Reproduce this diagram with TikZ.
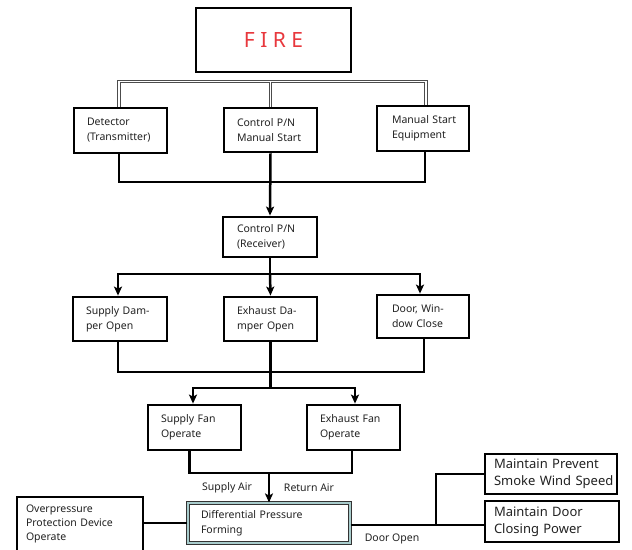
\documentclass[tikz,border=0pt]{standalone}
\usepackage{fontspec}
\setmainfont{Noto Sans}
\usetikzlibrary{arrows.meta}
\definecolor{firered}{HTML}{E8383D}
\definecolor{txt}{HTML}{222222}
\definecolor{dteal}{HTML}{A8CCCC}
\tikzset{
  box/.style={draw=black, line width=2.8pt, fill=white, align=left, inner ysep=0pt, inner xsep=13pt,
    font=\fontsize{10.5}{15}\selectfont, text=txt},
  conn/.style={line width=2.5pt, draw=black},
  arr/.style={conn, -{Stealth[length=9pt,width=8pt,inset=2pt]}},
  dbl/.style={draw=black!70, line width=1.1pt, double=white, double distance=1.5pt},
  lbl/.style={font=\fontsize{10.5}{12}\selectfont, text=txt, inner sep=0pt},
}
\begin{document}
\begin{tikzpicture}[x=1pt,y=-1pt]
\useasboundingbox (0,0) rectangle (632,549);
\clip (0,0) rectangle (632,549);

% FIRE
\node[box, line width=2.2pt, minimum width=155pt, minimum height=64pt, inner sep=0pt,
  font=\fontsize{21}{24}\selectfont, text=firered] (fire) at (273.5,40) {F I R E};

% row 1
\node[box, minimum width=93pt, minimum height=45pt, text width=67pt] (det) at (120.5,130.5) {Detector\\(Transmitter)};
\node[box, minimum width=93pt, minimum height=44pt, text width=67pt] (cpn) at (270.5,130) {Control~P/N\\Manual~Start};
\node[box, minimum width=92pt, minimum height=45pt, inner xsep=15pt, text width=62pt] (mse) at (423,128.5) {Manual~Start\\Equipment};

% receiver
\node[box, minimum width=94pt, minimum height=40pt, inner xsep=14pt, text width=66pt] (rcv) at (270,237) {Control~P/N\\(Receiver)};

% row 3
\node[box, minimum width=94pt, minimum height=44pt, text width=68pt] (sd) at (120,319) {Supply~Dam-\\per~Open};
\node[box, minimum width=93pt, minimum height=44pt, text width=67pt] (ed) at (270.5,319) {Exhaust~Da-\\mper~Open};
\node[box, minimum width=92pt, minimum height=43pt, inner xsep=15pt, text width=62pt] (dw) at (423,316.5) {Door,~Win-\\dow~Close};

% fans
\node[box, minimum width=93pt, minimum height=45pt, text width=67pt] (sf) at (194.5,427.5) {Supply~Fan\\Operate};
\node[box, minimum width=93pt, minimum height=45pt, text width=67pt] (ef) at (353.5,427.5) {Exhaust~Fan\\Operate};

% differential pressure
\node[box, draw=black!80, line width=1.1pt, double=dteal, double distance=2pt,
  minimum width=162pt, minimum height=40pt, text width=136pt] (dpf) at (269,523) {Differential~Pressure\\Forming};

% overpressure
\node[box, line width=2.2pt, minimum width=126pt, minimum height=54pt, inner xsep=9pt, text width=108pt,
  font=\fontsize{10.5}{14}\selectfont] (op) at (80,524) {Overpressure\\Protection~Device\\Operate};

% maintain boxes
\node[box, minimum width=132pt, minimum height=40pt, inner xsep=9pt, text width=114pt,
  font=\fontsize{13}{17}\selectfont] (mp) at (551,474) {Maintain~Prevent\\Smoke~Wind~Speed};
\node[box, minimum width=134pt, minimum height=41pt, inner xsep=9pt, text width=116pt,
  font=\fontsize{13}{17}\selectfont] (md) at (552,521.5) {Maintain~Door\\Closing~Power};

% double-line distribution from FIRE
\coordinate (bus1) at (270.5,81.5);
\draw[dbl] ([xshift=-1.5pt]det.north) |- (bus1) -| ([xshift=3pt]mse.north);
\draw[dbl] (bus1) -- (cpn.north);

% join 1 -> receiver
\coordinate (j1) at (270.5,182);
\draw[conn] ([xshift=-1.5pt]det.south) |- (j1) -| ([xshift=2pt]mse.south);
\draw[arr] (cpn.south) -- (rcv.north);

% receiver -> row 3
\coordinate (b2) at (270,274);
\draw[conn] (rcv.south) -- (b2);
\draw[arr] (b2) -| ([xshift=-2pt]sd.north);
\draw[arr] (b2) -| ([xshift=-3pt]dw.north);
\draw[arr] (b2) -- (ed.north);

% join 3 -> fans
\coordinate (j3) at (270.5,372);
\draw[conn] ([xshift=-2pt]sd.south) |- (j3) -| ([xshift=1pt]dw.south);
\coordinate (b3) at (270.5,388);
\draw[conn] (ed.south) -- (b3);
\draw[arr] (b3) -| ([xshift=-1.5pt]sf.north);
\draw[arr] (b3) -| ([xshift=1.5pt]ef.north);

% join 4 -> differential pressure
\coordinate (j4) at (269,473);
\draw[conn] ([xshift=-5pt]sf.south) |- (j4) -| ([xshift=-1.5pt]ef.south);
\draw[arr] (j4) -- (dpf.north);

% overpressure link
\draw[conn] (dpf.west) -- (dpf.west -| op.east);

% right side
\coordinate (k) at (436,525);
\draw[conn] (dpf.east |- k) -- (k) -- (k -| md.west);
\draw[conn] (k) |- (mp.west);

% labels
\node[lbl] (lsa) at (227,488) {Supply Air};
\node[lbl] (lra) at (309,488) {Return Air};
\node[lbl] (ldo) at (392,539) {Door Open};
\end{tikzpicture}
\end{document}
